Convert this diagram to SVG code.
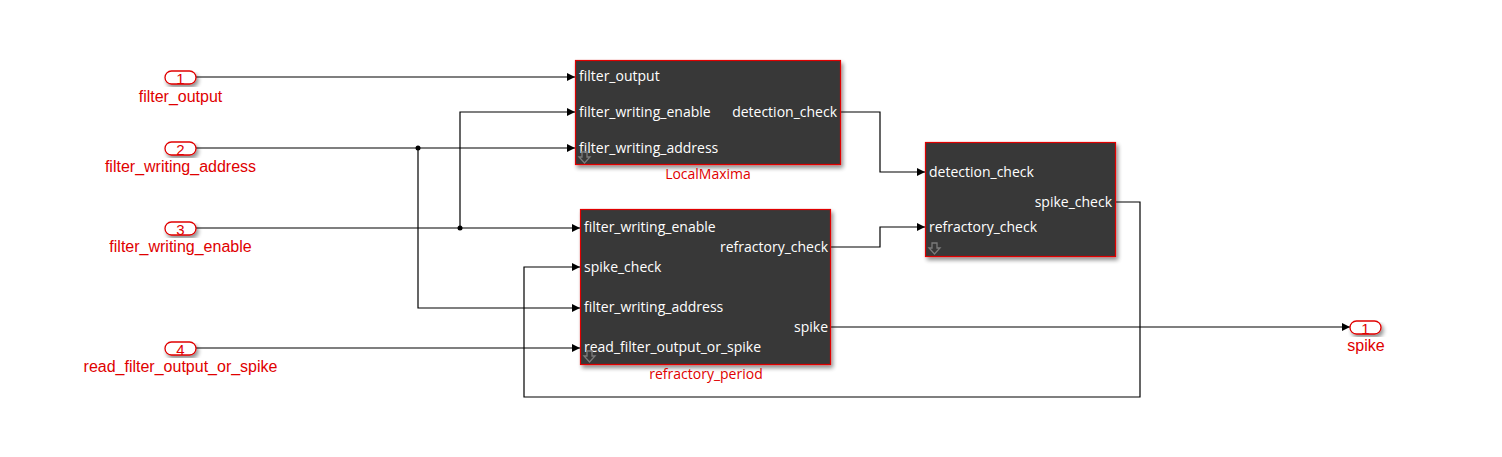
<svg xmlns="http://www.w3.org/2000/svg" width="1502" height="457" viewBox="0 0 1502 457">
<style>
.blk{fill:#383838;stroke:#e00000;stroke-width:1.2}
.pt{font-family:"Open Sans",sans-serif;font-size:14px;fill:#ffffff}
.bl{font-family:"Open Sans",sans-serif;font-size:14px;fill:#e00000;text-anchor:middle}
.port{fill:#ffffff;stroke:#e00000;stroke-width:1.3}
.pn{font-family:"Liberation Sans",Arial,sans-serif;font-size:15px;fill:#e00000;text-anchor:middle}
.pl{font-family:"Liberation Sans",Arial,sans-serif;font-size:16px;fill:#e00000;text-anchor:middle}
.w{fill:none;stroke:#000000;stroke-width:1.2}
.ico{fill:none;stroke:#7a7a7a;stroke-width:1.3}
</style>
<defs>
<marker id="ah" viewBox="0 0 10 10" refX="10" refY="5" markerWidth="8" markerHeight="8" markerUnits="userSpaceOnUse" orient="auto">
<path d="M0,0 L10,5 L0,10 z" fill="#000000"/>
</marker>
<filter id="sh" x="-10%" y="-10%" width="130%" height="130%">
<feGaussianBlur in="SourceAlpha" stdDeviation="2"/>
<feOffset dx="2" dy="3" result="b"/>
<feComponentTransfer><feFuncA type="linear" slope="0.45"/></feComponentTransfer>
<feMerge><feMergeNode/><feMergeNode in="SourceGraphic"/></feMerge>
</filter>
</defs>
<rect width="1502" height="457" fill="#ffffff"/>

<g id="connectors">
<path class="w" d="M196,77 H575" marker-end="url(#ah)"/>
<path class="w" d="M196,148 H575" marker-end="url(#ah)"/>
<path class="w" d="M418,148 V308 H580" marker-end="url(#ah)"/>
<path class="w" d="M196,228 H580" marker-end="url(#ah)"/>
<path class="w" d="M460,228 V112 H575" marker-end="url(#ah)"/>
<path class="w" d="M196,348 H580" marker-end="url(#ah)"/>
<path class="w" d="M841,112 H880 V172 H925" marker-end="url(#ah)"/>
<path class="w" d="M831,247 H880 V227 H925" marker-end="url(#ah)"/>
<path class="w" d="M1116,202 H1140 V397 H524 V267 H580" marker-end="url(#ah)"/>
<path class="w" d="M831,327 H1350" marker-end="url(#ah)"/>
<circle cx="418" cy="148" r="2.5" fill="#000000"/>
<circle cx="460" cy="228" r="2.5" fill="#000000"/>
</g>

<g id="in1">
<rect class="port" x="165" y="71" width="31" height="13" rx="6.5" filter="url(#sh)"/>
<text class="pn" x="180.5" y="83.5">1</text>
<text class="pl" x="180.5" y="102">filter_output</text>
</g>
<g id="in2">
<rect class="port" x="165" y="142" width="31" height="13" rx="6.5" filter="url(#sh)"/>
<text class="pn" x="180.5" y="154.5">2</text>
<text class="pl" x="180.5" y="172">filter_writing_address</text>
</g>
<g id="in3">
<rect class="port" x="165" y="222" width="31" height="13" rx="6.5" filter="url(#sh)"/>
<text class="pn" x="180.5" y="234.5">3</text>
<text class="pl" x="180.5" y="252">filter_writing_enable</text>
</g>
<g id="in4">
<rect class="port" x="165" y="342" width="31" height="13" rx="6.5" filter="url(#sh)"/>
<text class="pn" x="180.5" y="354.5">4</text>
<text class="pl" x="180.5" y="372">read_filter_output_or_spike</text>
</g>
<g id="out1">
<rect class="port" x="1350" y="321" width="31" height="13" rx="6.5" filter="url(#sh)"/>
<text class="pn" x="1365.5" y="333.5">1</text>
<text class="pl" x="1366" y="351">spike</text>
</g>

<g id="LocalMaxima">
<rect class="blk" x="575.5" y="60.5" width="265" height="104" filter="url(#sh)"/>
<text class="pt" x="579" y="81">filter_output</text>
<text class="pt" x="579" y="117">filter_writing_enable</text>
<text class="pt" x="579" y="153">filter_writing_address</text>
<text class="pt" x="837" y="117" text-anchor="end">detection_check</text>
<path class="ico" d="M582,152 H587 V157 H590 L584.5,163 L579,157 H582 Z"/>
<text class="bl" x="708" y="179">LocalMaxima</text>
</g>

<g id="spike_logic">
<rect class="blk" x="925.5" y="142.5" width="190" height="114" filter="url(#sh)"/>
<text class="pt" x="929" y="177">detection_check</text>
<text class="pt" x="929" y="232">refractory_check</text>
<text class="pt" x="1112" y="207" text-anchor="end">spike_check</text>
<path class="ico" d="M932,243 H937 V248 H940 L934.5,254 L929,248 H932 Z"/>
</g>

<g id="refractory_period">
<rect class="blk" x="580.5" y="209.5" width="250" height="155" filter="url(#sh)"/>
<text class="pt" x="584" y="232">filter_writing_enable</text>
<text class="pt" x="584" y="272">spike_check</text>
<text class="pt" x="584" y="312">filter_writing_address</text>
<text class="pt" x="584" y="352">read_filter_output_or_spike</text>
<text class="pt" x="828" y="252" text-anchor="end">refractory_check</text>
<text class="pt" x="828" y="332" text-anchor="end">spike</text>
<path class="ico" d="M587,351 H592 V356 H595 L589.5,362 L584,356 H587 Z"/>
<text class="bl" x="706" y="379">refractory_period</text>
</g>
</svg>
